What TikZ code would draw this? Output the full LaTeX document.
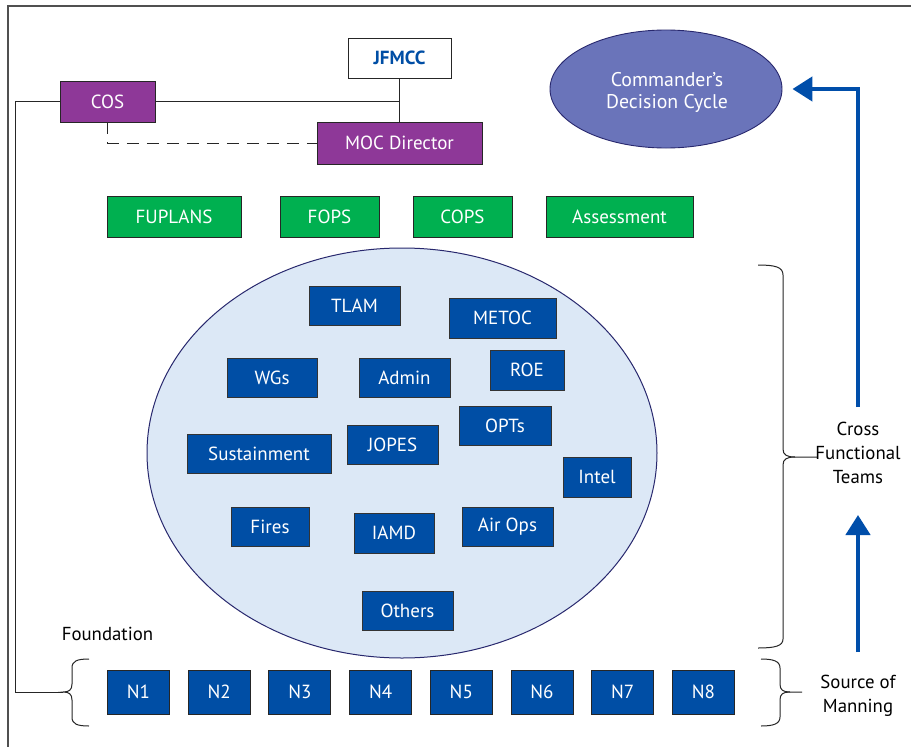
\documentclass[tikz,border=0pt]{standalone}
\usepackage{fontspec}
\setmainfont{PT Sans}
\usetikzlibrary{arrows.meta,shapes.geometric}
\definecolor{purp}{RGB}{142,56,152}
\definecolor{grn}{RGB}{0,176,80}
\definecolor{bbl}{RGB}{0,78,165}
\definecolor{poolfill}{RGB}{220,232,246}
\definecolor{navy}{RGB}{40,40,110}
\definecolor{cdcfill}{RGB}{106,116,186}
\definecolor{arrblue}{RGB}{0,78,170}
\definecolor{framegray}{RGB}{80,80,80}
\begin{document}
\begin{tikzpicture}[x=1pt,y=-1pt,
  boxbase/.style={draw=black!85, line width=0.9pt, inner sep=0pt, text=white,
    font=\fontsize{19}{22}\selectfont},
  purpbox/.style={boxbase, fill=purp},
  grnbox/.style={boxbase, fill=grn},
  bluebox/.style={boxbase, fill=bbl, draw=black!80, minimum height=39pt},
  nbox/.style={boxbase, fill=bbl, minimum width=62pt, minimum height=44pt},
  lbl/.style={font=\fontsize{18.8}{24}\selectfont, align=center, inner sep=0pt},
  conn/.style={draw=black!85, line width=0.9pt},
  bracepath/.style={draw=black!85, line width=1pt},
  bluearr/.style={draw=arrblue, line width=4.5pt, -{Triangle[length=20pt,width=24pt]}}
]
\useasboundingbox (0,0) rectangle (911,747);
\fill[white] (0,0) rectangle (911,747);
% frame
\draw[framegray, line width=1.2pt] (8,747) -- (8,6) -- (911,6);

% top boxes
\node[boxbase, fill=white, text=bbl, minimum width=103pt, minimum height=40pt,
  font=\fontsize{19}{22}\selectfont\bfseries] (jfmcc) at (399.5,58) {JFMCC};
\node[purpbox, minimum width=95pt, minimum height=41pt] (cos) at (107.5,101.5) {COS};
\node[purpbox, minimum width=165pt, minimum height=42pt] (moc) at (399.5,143) {MOC Director};

\draw[conn] (cos.east) -- (jfmcc.south |- cos.east);
\draw[conn] (jfmcc.south) -- (moc.north);
\draw[conn, dash pattern=on 12pt off 8pt] (cos.south) |- (moc.west);

% commander's decision cycle
\node[ellipse, draw=navy, line width=0.9pt, fill=cdcfill,
  minimum width=232pt, minimum height=118pt, inner sep=0pt] (cdc) at (666,89) {};
\node[text=white, align=center, inner sep=0pt,
  font=\fontsize{19.8}{22}\selectfont] (cdctext) at (667,92) {Commander’s\\Decision Cycle};

% green row
\node[grnbox, minimum width=134pt, minimum height=41pt] (fuplans) at (174,216.5) {FUPLANS};
\node[grnbox, minimum width=99pt, minimum height=41pt] (fops) at (329.5,216.5) {FOPS};
\node[grnbox, minimum width=99pt, minimum height=41pt] (cops) at (462.5,216.5) {COPS};
\node[grnbox, minimum width=147pt, minimum height=41pt] (assess) at (619.5,216.5) {Assessment};

% pool ellipse
\node[ellipse, draw=navy, line width=1pt, fill=poolfill, minimum width=510pt,
  minimum height=410pt, inner sep=0pt] (pool) at (402,453) {};

\node[bluebox, minimum width=91pt] (tlam) at (354.5,305.5) {TLAM};
\node[bluebox, minimum width=107pt, minimum height=40pt] (metoc) at (502.5,318) {METOC};
\node[bluebox, minimum width=90pt] (wgs) at (272,377.5) {WGs};
\node[bluebox, minimum width=91pt] (admin) at (404.5,377.5) {Admin};
\node[bluebox, minimum width=74pt, minimum height=40pt] (roe) at (527,370) {ROE};
\node[bluebox, minimum width=92pt] (opts) at (505,425.5) {OPTs};
\node[bluebox, minimum width=144pt] (sust) at (259,453.5) {Sustainment};
\node[bluebox, minimum width=91pt] (jopes) at (392.5,444.5) {JOPES};
\node[bluebox, minimum width=68pt, minimum height=40pt] (intel) at (597,477) {Intel};
\node[bluebox, minimum width=78pt] (fires) at (270,526.5) {Fires};
\node[bluebox, minimum width=80pt, minimum height=40pt] (iamd) at (394,533) {IAMD};
\node[bluebox, minimum width=91pt] (airops) at (507.5,526.5) {Air Ops};
\node[bluebox, minimum width=91pt] (others) at (407.5,610.5) {Others};

% foundation row
\node[lbl] (found) at (107.5,634) {Foundation};
\foreach \i in {1,...,8} {
  \node[nbox] (n\i) at ({138.5+(\i-1)*80.7},692) {N\i};
}

% left brace + connector
\coordinate (ftip) at (63,692);
\coordinate (lcorner) at (15,692);
\draw[conn] (cos.west) -| (lcorner) -- (ftip);
\draw[bracepath] (89,659) .. controls (77,659) and (72,661) .. (72,668) -- (72,684)
  .. controls (72,690) and (69,692) .. (ftip)
  .. controls (69,692) and (72,694) .. (72,700) -- (72,717)
  .. controls (72,724) and (77,726) .. (89,726);

% right brace (N row)
\coordinate (stip) at (802,692);
\draw[bracepath] (761,659) .. controls (773,659) and (780,661) .. (780,668) -- (780,684)
  .. controls (780,690) and (783,692) .. (790,692) -- (stip);
\draw[bracepath] (790,692) .. controls (783,692) and (780,694) .. (780,700) -- (780,717)
  .. controls (780,724) and (773,726) .. (761,726);
\node[lbl] (som) at (858,696) {Source of\\Manning};

% big brace (cross functional)
\coordinate (ctip) at (817,457);
\draw[bracepath] (758,265) .. controls (775,265) and (783,267) .. (783,275) -- (783,449)
  .. controls (783,455) and (787,457) .. (795,457) -- (ctip);
\draw[bracepath] (795,457) .. controls (787,457) and (783,459) .. (783,465) -- (783,639)
  .. controls (783,646) and (775,648) .. (758,648);
\node[lbl] (cft) at (858,453) {Cross\\Functional\\Teams};

% blue arrows
\coordinate (up0) at (858,407);
\coordinate (lo0) at (858,652);
\coordinate (lo1) at (858,515);
\draw[bluearr, shorten >=10pt] (up0) |- (cdc.east);
\draw[bluearr] (lo0) -- (lo1);
\end{tikzpicture}
\end{document}
